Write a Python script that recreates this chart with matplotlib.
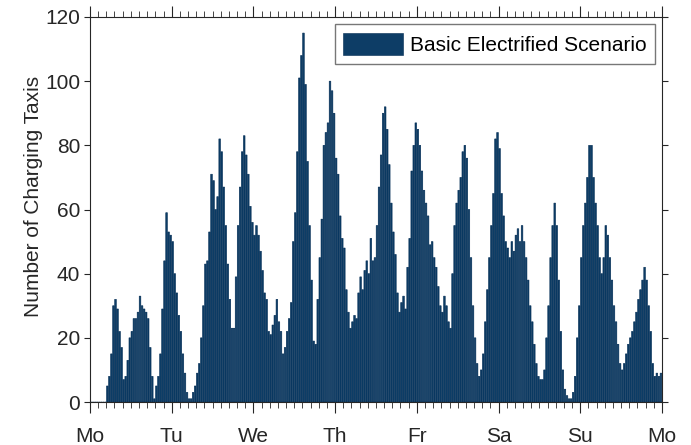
import numpy as np
import matplotlib
matplotlib.use("Agg")
import matplotlib.pyplot as plt
from matplotlib.ticker import MultipleLocator

plt.rcParams['font.family'] = ['Liberation Sans', 'DejaVu Sans']

# charging taxis per 36-min slot, one list per day (40 slots a day)
mon = [0, 0, 0, 0, 0, 0, 0, 0, 5, 8, 15, 30, 32, 29, 22, 17, 7, 8, 13, 20,
       22, 26, 26, 28, 33, 30, 29, 28, 26, 17, 8, 1, 5, 8, 15, 29, 44, 59, 53, 52]
tue = [50, 40, 34, 27, 22, 15, 9, 3, 1, 1, 3, 5, 9, 12, 20, 30, 43, 44, 53, 71,
       69, 60, 64, 82, 78, 67, 55, 43, 32, 23, 23, 39, 55, 67, 78, 83, 77, 71, 61, 56]
wed = [52, 55, 52, 47, 41, 34, 32, 22, 21, 24, 27, 32, 25, 22, 15, 17, 22, 26, 31, 50,
       59, 78, 101, 108, 115, 99, 75, 55, 38, 19, 18, 32, 45, 57, 80, 84, 87, 100, 97, 90]
thu = [76, 71, 58, 51, 48, 35, 28, 23, 25, 27, 26, 34, 39, 35, 41, 44, 40, 51, 44, 45,
       55, 67, 77, 90, 92, 85, 74, 62, 53, 46, 34, 28, 31, 33, 29, 42, 51, 72, 80, 87]
fri = [85, 80, 72, 66, 62, 58, 49, 50, 45, 42, 36, 30, 28, 33, 30, 25, 23, 40, 55, 62,
       66, 70, 78, 80, 76, 60, 45, 30, 20, 12, 8, 10, 15, 25, 35, 45, 55, 65, 82, 84]
sat = [79, 65, 58, 50, 48, 45, 50, 47, 52, 54, 50, 55, 50, 45, 38, 30, 25, 18, 12, 8,
       7, 7, 10, 20, 30, 45, 55, 62, 55, 38, 22, 10, 4, 2, 1, 1, 3, 8, 20, 30]
sun = [45, 55, 62, 70, 80, 80, 70, 62, 55, 45, 40, 45, 55, 52, 45, 38, 30, 25, 18, 12,
       10, 12, 15, 18, 20, 22, 25, 28, 32, 35, 38, 42, 38, 30, 22, 12, 8, 9, 8, 9]

day_labels = ['Mo', 'Tu', 'We', 'Th', 'Fr', 'Sa', 'Su', 'Mo']
slots_per_day = 40

counts = np.array(mon + tue + wed + thu + fri + sat + sun)
t = (np.arange(len(counts)) + 0.5) / slots_per_day   # in days

fig = plt.figure(figsize=(6.91, 4.45), dpi=100)
ax = fig.add_axes([0.1302, 0.0966, 0.8278, 0.8652])

bars = ax.bar(t, counts, width=0.8 / slots_per_day, color='#0d3d66',
              edgecolor='#002a52', linewidth=0.4,
              label='Basic Electrified Scenario')
for b in bars:
    b.set_snap(False)

ax.set_xlim(0, 7)
ax.set_ylim(0, 120)
ax.set_xticks(np.arange(8))
ax.set_xticklabels(day_labels)
ax.xaxis.set_minor_locator(MultipleLocator(0.1))
ax.set_yticks(np.arange(0, 121, 20))

grey = '#262626'
for s in ax.spines.values():
    s.set_color(grey)
    s.set_linewidth(0.8)
ax.tick_params(axis='both', which='both', direction='out', colors=grey,
               labelsize=15, top=True, right=True)
ax.tick_params(axis='x', which='major', length=8, pad=10)
ax.tick_params(axis='x', which='minor', length=4)
ax.tick_params(axis='y', which='major', length=4, pad=3)
ax.set_ylabel('Number of Charging Taxis', fontsize=15, color=grey)
ax.yaxis.set_label_coords(-0.082, 0.534)

leg = ax.legend(loc='upper right', fontsize=15, frameon=True, fancybox=False,
                handlelength=2.9, handleheight=1.3, borderaxespad=0.35,
                borderpad=0.4, handletextpad=0.3)
leg.get_frame().set_edgecolor('#555555')
leg.get_frame().set_linewidth(1.0)

fig.savefig('out.png', dpi=100)
